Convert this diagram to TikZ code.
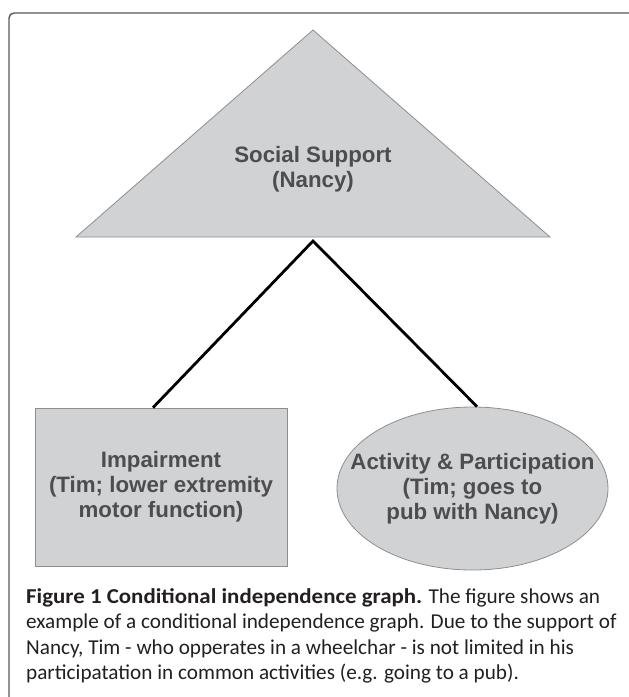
\documentclass[tikz,border=0pt]{standalone}
\usepackage{fontspec}
\setmainfont{Liberation Sans}
\newfontfamily\capfont[BoldFeatures={FakeStretch=1.08}]{Carlito}
\usetikzlibrary{shapes.geometric}

\definecolor{boxfill}{HTML}{D1D2D4}
\definecolor{boxline}{HTML}{8E8E90}
\definecolor{labeltext}{HTML}{4D4D4F}
\definecolor{framegray}{HTML}{58585A}
\definecolor{captext}{HTML}{231F20}

\tikzset{
  shapelabel/.style={text=labeltext,font=\fontsize{22.3}{25}\selectfont\bfseries,align=center,inner sep=0pt},
  impbox/.style={draw=boxline,fill=boxfill,line width=0.8pt,minimum width=252,minimum height=158},
  actoval/.style={ellipse,draw=boxline,fill=boxfill,line width=0.8pt,minimum width=271,minimum height=163,inner sep=0pt},
  link/.style={line width=2.8pt,black}
}

\begin{document}
\begin{tikzpicture}[x=1pt,y=-1pt]
  \useasboundingbox (0,0) rectangle (629,697);
  % frame round the figure
  \draw[framegray,line width=1.4pt,rounded corners=5pt] (9,720) -- (9,13) -- (660,13);

  % social support
  \filldraw[fill=boxfill,draw=boxline,line width=0.8pt] (76,237) -- (313,30) -- (550,237) -- cycle;
  \node[shapelabel] (social) at (313,169.5) {Social Support\\(Nancy)};
  \coordinate (fork) at (313,241);

  % impairment and activity
  \node[impbox,shapelabel] (imp) at (161,487) {Impairment\\(Tim; lower extremity\\motor function)};
  \node[actoval] (act) at (472.5,488.5) {};
  \node[shapelabel] (acttext) at (act.center) {Activity \& Participation\\(Tim; goes to\\pub with Nancy)};

  \draw[link] ([xshift=-8pt]imp.north) -- (fork) -- ([xshift=4.5pt]act.north);

  % caption
  \node[anchor=north west,inner sep=0pt,align=left,text=captext,font=\capfont\fontsize{21.2}{25.5}\selectfont] (caption) at (26,588)
    {\textbf{Figure 1 Conditional independence graph.} The figure shows an\\
     example of a conditional independence graph. Due to the support of\\
     Nancy, Tim - who opperates in a wheelchar - is not limited in his\\
     participatation in common activities (e.g. going to a pub).};
\end{tikzpicture}
\end{document}
